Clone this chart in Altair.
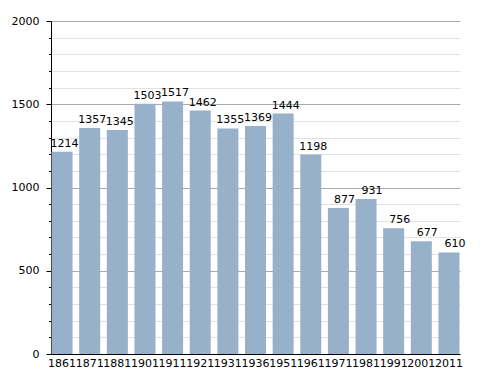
import altair as alt
import pandas as pd

years = ["1861", "1871", "1881", "1901", "1911", "1921", "1931", "1936",
         "1951", "1961", "1971", "1981", "1991", "2001", "2011"]
population = [1214, 1357, 1345, 1503, 1517, 1462, 1355, 1369,
              1444, 1198, 877, 931, 756, 677, 610]

df = pd.DataFrame({"year": years, "pop": population})

FONT = "DejaVu Sans"

xscale = alt.Scale(paddingInner=0.24, paddingOuter=0.02)
yscale = alt.Scale(domain=[0, 2000], nice=False)

x = alt.X("year:N", sort=years, title=None, scale=xscale,
          axis=alt.Axis(labelAngle=0, labelOverlap=False, labelBound=False,
                        labelFlush=False, ticks=False, labelPadding=3,
                        domainColor="black", labelFont=FONT, labelFontSize=11,
                        labelColor="black", grid=False))
y = alt.Y("pop:Q", title=None, scale=yscale,
          axis=alt.Axis(values=list(range(0, 2001, 100)),
                        labelExpr="datum.value % 500 === 0 ? datum.label : ''",
                        format="d", labelOverlap=False,
                        gridColor=alt.condition("datum.value % 500 === 0",
                                                alt.value("#aaaaaa"), alt.value("#e2e2e2")),
                        tickSize=alt.condition("datum.value % 500 === 0",
                                               alt.value(5), alt.value(2.5)),
                        tickColor="black", domainColor="black",
                        labelPadding=7, labelFont=FONT, labelFontSize=11,
                        labelColor="black"))

base = alt.Chart(df).encode(x=x, y=y)
bars = base.mark_bar(color="#98b1ca")
labels = base.mark_text(align="right", baseline="bottom", dx=16.5, dy=-3,
                        font=FONT, fontSize=11, color="black").encode(text="pop:Q")

chart = alt.layer(bars, labels).properties(
    width=409, height=333,
    padding={"left": 3, "top": 7, "right": 5, "bottom": 5},
    background="white",
).configure_view(stroke=None)

chart.save("out.html", embed_options={"renderer": "svg", "actions": False})
